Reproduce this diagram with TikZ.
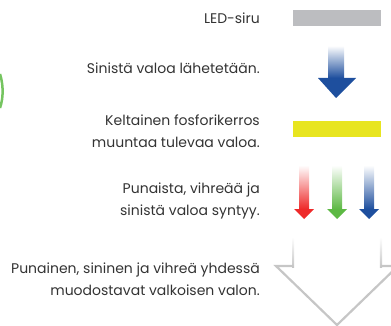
\documentclass[tikz,border=0pt]{standalone}
\usepackage{fontspec}
\setmainfont{Poppins}
\definecolor{ledgray}{HTML}{BCBDC0}
\definecolor{fosfori}{HTML}{E8E520}
\definecolor{punainen}{HTML}{EE2A2A}
\definecolor{vihrea}{HTML}{5DB944}
\definecolor{sininen}{HTML}{1E4F9E}
\definecolor{reuna}{HTML}{C6C6C6}
\begin{document}
\begin{tikzpicture}[x=1pt, y=-1pt,
    selite/.style={anchor=east, align=right, inner sep=0pt, text=black!80,
      font=\fontsize{14}{22}\selectfont}]
  \useasboundingbox (0,0) rectangle (391,326);
  \clip (0,0) rectangle (391,326);

  \draw[vihrea!85, line width=2.5] (0,74) .. controls (3.5,85) and (3.5,98) .. (0,108);

  \node[selite] (led) at (260,18) {LED-siru};
  \fill[ledgray] (293,10) rectangle (381,26);

  \node[selite] (sininen) at (260,68) {Sinistä valoa lähetetään.};
  \shade[top color=sininen!4, bottom color=sininen] (328,47) rectangle (344,78);
  \fill[sininen] (318,78) -- (356,78) -- (336,98) -- cycle;

  \node[selite] (fosfori) at (260,131) {Keltainen fosforikerros\\ muuntaa tulevaa valoa.};
  \fill[fosfori] (293,121) rectangle (381,137);

  \node[selite] (rgb) at (260,201) {Punaista, vihreää ja\\ sinistä valoa syntyy.};
  \foreach \x/\c in {304/punainen, 337/vihrea, 369/sininen} {
    \shade[top color=\c!4, bottom color=\c] (\x-5,167) rectangle (\x+5,209);
    \fill[\c] (\x-10,209) -- (\x+10,209) -- (\x,219) -- cycle;
  }

  \node[selite] (valkoinen) at (260,279) {Punainen, sininen ja vihreä yhdessä\\ muodostavat valkoisen valon.};
  \shade[top color=white, bottom color=reuna] (292,237) rectangle (294.2,267);
  \shade[top color=white, bottom color=reuna] (379.8,237) rectangle (382,267);
  \draw[reuna, line width=2.2, line join=miter] (293,266) -- (276,266) -- (337,325) -- (398,266) -- (381,266);
\end{tikzpicture}
\end{document}
